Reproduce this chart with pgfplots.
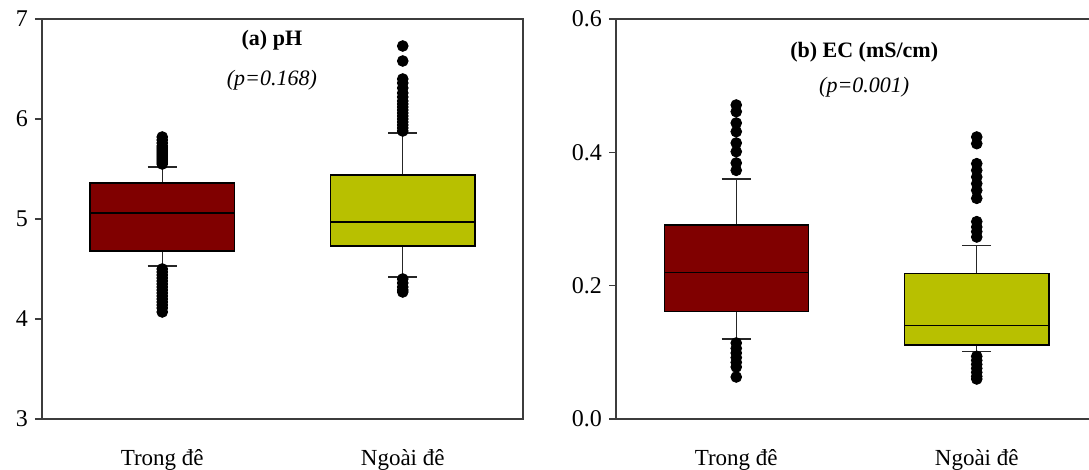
\documentclass[border=0pt]{standalone}
\usepackage{fontspec}
\setmainfont{Liberation Serif}
\usepackage{pgfplots}
\pgfplotsset{compat=1.18}
\usepgfplotslibrary{statistics}
\definecolor{dred}{RGB}{128,0,0}
\definecolor{olive}{RGB}{184,192,0}
\definecolor{axgray}{RGB}{60,60,60}

\pgfplotsset{
  panel/.style={
    scale only axis,
    width=240.5pt, height=200pt,
    xmin=0, xmax=2,
    xtick={0.5,1.5},
    xticklabels={Trong đê, Ngoài đê},
    xtick style={draw=none},
    xticklabel style={font=\fontsize{11.5}{13}\selectfont, yshift=-8pt},
    yticklabel style={font=\fontsize{12}{14}\selectfont},
    ytick pos=left,
    tick align=outside,
    major tick length=3.5pt,
    axis line style={axgray, line width=0.6pt},
    every tick/.style={axgray, line width=0.6pt},
    /pgf/number format/assume math mode=true,
    boxplot/draw direction=y,
    boxplot/box extend=0.6,
    boxplot/whisker extend=0.12,
    boxplot/every median/.style={black, line width=0.6pt},
    boxplot/every whisker/.style={black!85, line width=0.6pt},
    boxplot/every box/.style={draw=black, line width=0.6pt},
    clip=false,
  },
  outl/.style={mark=*, mark size=2.7pt, mark options={fill=black, draw=black}},
}

\begin{document}
\begin{tikzpicture}
\useasboundingbox (-21pt,-25.5pt) rectangle (523.5pt,209.5pt);

\begin{axis}[panel, at={(0pt,0pt)}, anchor=south west,
  ymin=3, ymax=7, ytick={3,4,5,6,7}]
  \addplot[boxplot prepared={draw position=0.5,
      lower whisker=4.53, lower quartile=4.68, median=5.06,
      upper quartile=5.36, upper whisker=5.52},
    fill=dred, outl]
    table[row sep=\\, y index=0] {v\\ 5.55\\ 5.57\\ 5.59\\ 5.61\\ 5.63\\ 5.65\\ 5.67\\
      5.69\\ 5.71\\ 5.73\\ 5.76\\ 5.79\\ 5.82\\
      4.50\\ 4.47\\ 4.44\\ 4.41\\ 4.38\\ 4.35\\ 4.32\\ 4.29\\
      4.26\\ 4.23\\ 4.20\\ 4.17\\ 4.14\\ 4.11\\ 4.07\\};
  \addplot[boxplot prepared={draw position=1.5,
      lower whisker=4.42, lower quartile=4.73, median=4.97,
      upper quartile=5.44, upper whisker=5.86},
    fill=olive, outl]
    table[row sep=\\, y index=0] {v\\ 5.88\\ 5.91\\ 5.94\\ 5.97\\ 6.00\\ 6.03\\ 6.06\\
      6.09\\ 6.12\\ 6.15\\ 6.18\\ 6.22\\ 6.26\\ 6.31\\ 6.36\\
      6.40\\ 6.58\\ 6.73\\
      4.40\\ 4.36\\ 4.32\\ 4.29\\ 4.27\\};
  \node[font=\fontsize{11}{13}\selectfont\bfseries] at (rel axis cs:0.478,0.9475) {(a) pH};
  \node[font=\fontsize{11}{13}\selectfont\itshape] at (rel axis cs:0.478,0.8475) {(p=0.168)};
\end{axis}

\begin{axis}[panel, at={(287pt,0pt)}, anchor=south west,
  ymin=0, ymax=0.6, ytick={0,0.2,0.4,0.6},
  yticklabel style={/pgf/number format/.cd, fixed, fixed zerofill, precision=1}]
  \addplot[boxplot prepared={draw position=0.5,
      lower whisker=0.120, lower quartile=0.161, median=0.220,
      upper quartile=0.291, upper whisker=0.360},
    fill=dred, outl]
    table[row sep=\\, y index=0] {v\\ 0.471\\ 0.461\\ 0.444\\ 0.431\\ 0.414\\ 0.401\\
      0.384\\ 0.373\\
      0.114\\ 0.106\\ 0.099\\ 0.092\\ 0.085\\ 0.078\\ 0.063\\};
  \addplot[boxplot prepared={draw position=1.5,
      lower whisker=0.101, lower quartile=0.111, median=0.140,
      upper quartile=0.218, upper whisker=0.260},
    fill=olive, outl]
    table[row sep=\\, y index=0] {v\\ 0.423\\ 0.413\\ 0.383\\ 0.373\\ 0.363\\ 0.353\\
      0.343\\ 0.331\\ 0.296\\ 0.288\\ 0.281\\ 0.273\\
      0.094\\ 0.088\\ 0.082\\ 0.076\\ 0.070\\ 0.064\\ 0.060\\};
  \node[font=\fontsize{11}{13}\selectfont\bfseries] at (rel axis cs:0.516,0.9175) {(b) EC (mS/cm)};
  \node[font=\fontsize{11}{13}\selectfont\itshape] at (rel axis cs:0.516,0.83) {(p=0.001)};
\end{axis}
\end{tikzpicture}
\end{document}
